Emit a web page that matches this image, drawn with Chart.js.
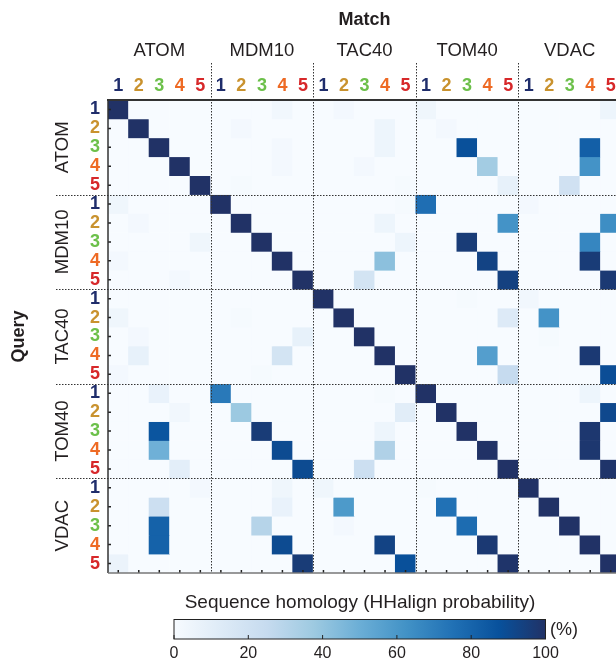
<!DOCTYPE html>
<html>
<head>
<meta charset="utf-8">
<script src="https://cdn.jsdelivr.net/npm/chart.js@4.4.1/dist/chart.umd.min.js"></script>
<style>
  html, body { margin: 0; padding: 0; background: #fff; overflow: hidden; }
  #wrap { width: 640px; height: 660px; }
</style>
</head>
<body>
<div id="wrap"><canvas id="heatmap" width="640" height="660"></canvas></div>
<script>
// protein families, same order for query rows and match columns
const proteins = ['ATOM', 'MDM10', 'TAC40', 'TOM40', 'VDAC'];
const members = ['1', '2', '3', '4', '5'];
const memberColors = ['#1f2d6b', '#c9922e', '#6cc04a', '#ee6a24', '#d7282a'];
const colorbarTicks = [0, 20, 40, 60, 80, 100];

// HHalign probability (%) - 5 query rows per family, 25 match columns each
const atomRows = [
  [100, 0, 0, 0, 0,   0, 0, 0, 3, 0,   0, 2, 0, 0, 0,   4, 0, 0, 0, 0,   0, 0, 0, 0, 5],
  [0, 100, 0, 0, 0,   0, 2, 0, 0, 0,   0, 0, 0, 5, 0,   0, 2, 0, 0, 0,   0, 0, 0, 0, 0],
  [0, 0, 100, 0, 0,   0, 0, 0, 2, 0,   0, 0, 0, 5, 0,   0, 0, 88, 0, 0,  0, 0, 0, 82, 0],
  [0, 0, 0, 100, 0,   0, 0, 0, 2, 0,   0, 0, 2, 0, 0,   0, 0, 0, 36, 0,  0, 0, 0, 62, 0],
  [0, 0, 0, 0, 100,   0, 1, 0, 0, 0,   0, 0, 0, 0, 1,   0, 0, 0, 0, 8,   0, 0, 20, 0, 0]
];
const mdm10Rows = [
  [4, 0, 0, 0, 0,     100, 0, 0, 0, 0,  0, 0, 0, 0, 1,   76, 0, 0, 0, 0,  2, 0, 0, 0, 0],
  [0, 2, 0, 0, 0,     0, 100, 0, 0, 0,  0, 0, 0, 5, 0,   0, 0, 0, 0, 62,  0, 0, 0, 0, 64],
  [0, 0, 0, 0, 4,     0, 0, 100, 0, 0,  0, 0, 0, 0, 5,   0, 0, 96, 0, 0,  0, 0, 0, 67, 0],
  [2, 0, 0, 0, 0,     0, 0, 0, 100, 0,  0, 0, 0, 42, 0,  0, 0, 0, 93, 0,  0, 0, 0, 96, 0],
  [0, 0, 0, 2, 0,     0, 0, 0, 0, 100,  0, 0, 18, 0, 0,  0, 0, 0, 0, 94,  0, 0, 0, 0, 97]
];
const tac40Rows = [
  [0, 0, 0, 0, 0,     0, 0, 0, 0, 0,    100, 0, 0, 0, 0,  0, 0, 1, 0, 0,   3, 0, 0, 0, 0],
  [4, 0, 0, 0, 0,     0, 1, 0, 0, 0,    0, 100, 0, 0, 0,  0, 0, 0, 0, 13,  0, 62, 0, 0, 0],
  [0, 2, 0, 0, 0,     0, 0, 0, 0, 8,    0, 0, 100, 0, 0,  0, 0, 0, 0, 0,   0, 1, 0, 0, 0],
  [0, 8, 0, 0, 0,     0, 0, 0, 18, 0,   0, 0, 0, 100, 0,  0, 0, 0, 57, 0,  0, 0, 0, 97, 0],
  [2, 0, 0, 0, 0,     0, 0, 1, 0, 0,    0, 0, 0, 0, 100,  0, 0, 0, 0, 25,  0, 0, 0, 0, 89]
];
const tom40Rows = [
  [0, 0, 7, 0, 0,     72, 0, 0, 0, 0,   0, 0, 0, 1, 0,    100, 0, 0, 0, 0,  0, 0, 0, 5, 0],
  [0, 0, 0, 3, 0,     0, 38, 0, 0, 0,   0, 0, 0, 0, 11,   0, 100, 0, 0, 0,  0, 0, 0, 0, 91],
  [0, 0, 86, 0, 0,    0, 0, 96, 0, 0,   0, 0, 0, 5, 0,    0, 0, 100, 0, 0,  0, 0, 0, 98, 0],
  [0, 0, 49, 0, 0,    0, 0, 0, 90, 0,   0, 0, 0, 32, 0,   0, 0, 0, 100, 0,  0, 0, 0, 98, 0],
  [0, 0, 0, 10, 0,    0, 0, 0, 0, 90,   0, 0, 22, 0, 0,   0, 0, 0, 0, 100,  0, 0, 0, 0, 99]
];
const vdacRows = [
  [0, 0, 0, 0, 2,     0, 0, 0, 4, 0,    4, 0, 0, 0, 0,    1, 0, 0, 0, 0,    100, 0, 0, 0, 0],
  [0, 0, 22, 0, 0,    0, 0, 0, 7, 0,    0, 59, 0, 0, 0,   0, 75, 0, 0, 0,   0, 100, 0, 0, 0],
  [0, 0, 81, 0, 0,    0, 0, 30, 0, 0,   0, 2, 0, 0, 0,    0, 0, 77, 0, 0,   0, 0, 100, 0, 0],
  [0, 0, 81, 0, 0,    0, 0, 0, 90, 0,   0, 0, 0, 93, 0,   0, 0, 0, 97, 0,   0, 0, 0, 100, 0],
  [6, 0, 0, 0, 0,     0, 0, 0, 0, 96,   0, 0, 0, 0, 88,   0, 0, 0, 0, 99,   0, 0, 0, 0, 100]
];

const queryRows = [...atomRows, ...mdm10Rows, ...tac40Rows, ...tom40Rows, ...vdacRows];
const cellLabels = proteins.flatMap(p => members.map(m => p + ' ' + m));

// blues colormap ending in navy
const ramp = [
  [0, '#f7fbff'], [12.5, '#deebf7'], [25, '#c6dbef'], [37.5, '#9ecae1'], [50, '#6baed6'],
  [62.5, '#4292c6'], [75, '#2171b5'], [87.5, '#08519c'], [100, '#213266']
];
function hexRgb(h) {
  return [1, 3, 5].map(i => parseInt(h.slice(i, i + 2), 16));
}
function probColor(v) {
  for (let i = 1; i < ramp.length; i++) {
    if (v <= ramp[i][0]) {
      const t = (v - ramp[i - 1][0]) / (ramp[i][0] - ramp[i - 1][0]);
      const a = hexRgb(ramp[i - 1][1]), b = hexRgb(ramp[i][1]);
      return 'rgb(' + a.map((c, k) => Math.round(c + (b[k] - c) * t)).join(',') + ')';
    }
  }
  return ramp[ramp.length - 1][1];
}

const FONT = "'Liberation Sans', Arial, sans-serif";
const TEXT = '#231f20';

const decorations = {
  id: 'decorations',
  afterDraw(chart) {
    const { ctx, chartArea: a, scales } = chart;
    const x = scales.x, y = scales.y;
    ctx.save();

    // small tick marks on left and bottom edges
    ctx.strokeStyle = '#222';
    ctx.lineWidth = 1.5;
    ctx.beginPath();
    for (let r = 0; r < 25; r++) {
      const py = y.getPixelForValue(r + 0.5);
      ctx.moveTo(a.left, py); ctx.lineTo(a.left + 3, py);
    }
    for (let c = 0; c < 25; c++) {
      const px = x.getPixelForValue(c);
      ctx.moveTo(px, a.bottom); ctx.lineTo(px, a.bottom - 3);
    }
    ctx.stroke();

    // dotted family separators
    ctx.strokeStyle = '#333';
    ctx.lineWidth = 1;
    ctx.setLineDash([1.5, 1.5]);
    ctx.beginPath();
    for (let g = 1; g < proteins.length; g++) {
      const px = Math.round((x.getPixelForValue(5 * g - 1) + x.getPixelForValue(5 * g)) / 2) + 0.5;
      ctx.moveTo(px, 63); ctx.lineTo(px, a.bottom);
      const py = Math.round(y.getPixelForValue(5 * g)) + 0.5;
      ctx.moveTo(56, py); ctx.lineTo(a.right, py);
    }
    ctx.stroke();
    ctx.setLineDash([]);

    // frame
    ctx.strokeStyle = '#333';
    ctx.lineWidth = 2;
    ctx.beginPath(); ctx.moveTo(a.left - 1, a.top); ctx.lineTo(a.right, a.top); ctx.stroke();
    ctx.lineWidth = 1.5;
    ctx.beginPath(); ctx.moveTo(a.left, a.top); ctx.lineTo(a.left, a.bottom); ctx.stroke();
    ctx.strokeStyle = '#777';
    ctx.beginPath(); ctx.moveTo(a.left, a.bottom); ctx.lineTo(a.right, a.bottom); ctx.stroke();

    // family names
    ctx.fillStyle = TEXT;
    ctx.textAlign = 'center';
    ctx.textBaseline = 'middle';
    ctx.font = '18.5px ' + FONT;
    proteins.forEach((p, g) => {
      ctx.fillText(p, x.getPixelForValue(5 * g + 2), 51);
      ctx.save();
      ctx.translate(63, y.getPixelForValue(5 * g + 2.5));
      ctx.rotate(-Math.PI / 2);
      ctx.fillText(p, 0, 0);
      ctx.restore();
    });

    // axis titles
    ctx.font = 'bold 18px ' + FONT;
    ctx.fillText('Match', x.getPixelForValue(12), 20);
    ctx.save();
    ctx.translate(19, y.getPixelForValue(12.5));
    ctx.rotate(-Math.PI / 2);
    ctx.fillText('Query', 0, 0);
    ctx.restore();

    // colorbar
    const cb = { left: 174, right: 545.5, top: 619.5, bottom: 639 };
    const grad = ctx.createLinearGradient(cb.left, 0, cb.right, 0);
    ramp.forEach(([v, col]) => grad.addColorStop(v / 100, col));
    ctx.fillStyle = grad;
    ctx.fillRect(cb.left, cb.top, cb.right - cb.left, cb.bottom - cb.top);
    ctx.strokeStyle = '#222';
    ctx.lineWidth = 1;
    ctx.strokeRect(cb.left, cb.top, cb.right - cb.left, cb.bottom - cb.top);
    ctx.beginPath();
    ctx.fillStyle = TEXT;
    ctx.font = '16px ' + FONT;
    ctx.textBaseline = 'middle';
    colorbarTicks.forEach(v => {
      const px = cb.left + (cb.right - cb.left) * v / 100;
      ctx.moveTo(px, cb.bottom); ctx.lineTo(px, cb.bottom - 4);
      ctx.fillText(String(v), px, 654);
    });
    ctx.stroke();
    ctx.font = '19px ' + FONT;
    ctx.fillText('Sequence homology (HHalign probability)', 360, 603);
    ctx.textAlign = 'left';
    ctx.font = '18px ' + FONT;
    ctx.fillText('(%)', 550, 630);

    ctx.restore();
  }
};

const datasets = queryRows.map((row, r) => ({
  label: cellLabels[r],
  data: row.map(() => 1),
  probs: row,
  backgroundColor: row.map(v => probColor(v)),
  borderWidth: 0,
  barPercentage: 1,
  categoryPercentage: 1
}));

new Chart(document.getElementById('heatmap'), {
  type: 'bar',
  data: { labels: cellLabels, datasets: datasets },
  options: {
    responsive: false,
    animation: false,
    events: [],
    layout: { padding: { left: 0, top: 0, right: 19, bottom: 87 } },
    plugins: { legend: { display: false }, tooltip: { enabled: false } },
    scales: {
      x: {
        position: 'top',
        stacked: true,
        grid: { display: false },
        border: { display: false },
        ticks: {
          autoSkip: false,
          maxRotation: 0,
          padding: -5,
          font: { family: FONT, size: 18, weight: 'bold' },
          color: c => memberColors[c.index % 5],
          callback: (v, i) => members[i % 5]
        },
        afterFit: s => { s.height = 100; }
      },
      y: {
        display: false,
        stacked: true,
        reverse: true,
        min: 0,
        max: 25
      },
      yMember: {
        type: 'category',
        position: 'left',
        labels: cellLabels,
        offset: true,
        grid: { display: false },
        border: { display: false },
        ticks: {
          autoSkip: false,
          padding: 0,
          font: { family: FONT, size: 18, weight: 'bold' },
          color: c => memberColors[c.index % 5],
          callback: (v, i) => members[i % 5]
        },
        afterFit: s => { s.width = 108; }
      }
    }
  },
  plugins: [decorations]
});
</script>
</body>
</html>
